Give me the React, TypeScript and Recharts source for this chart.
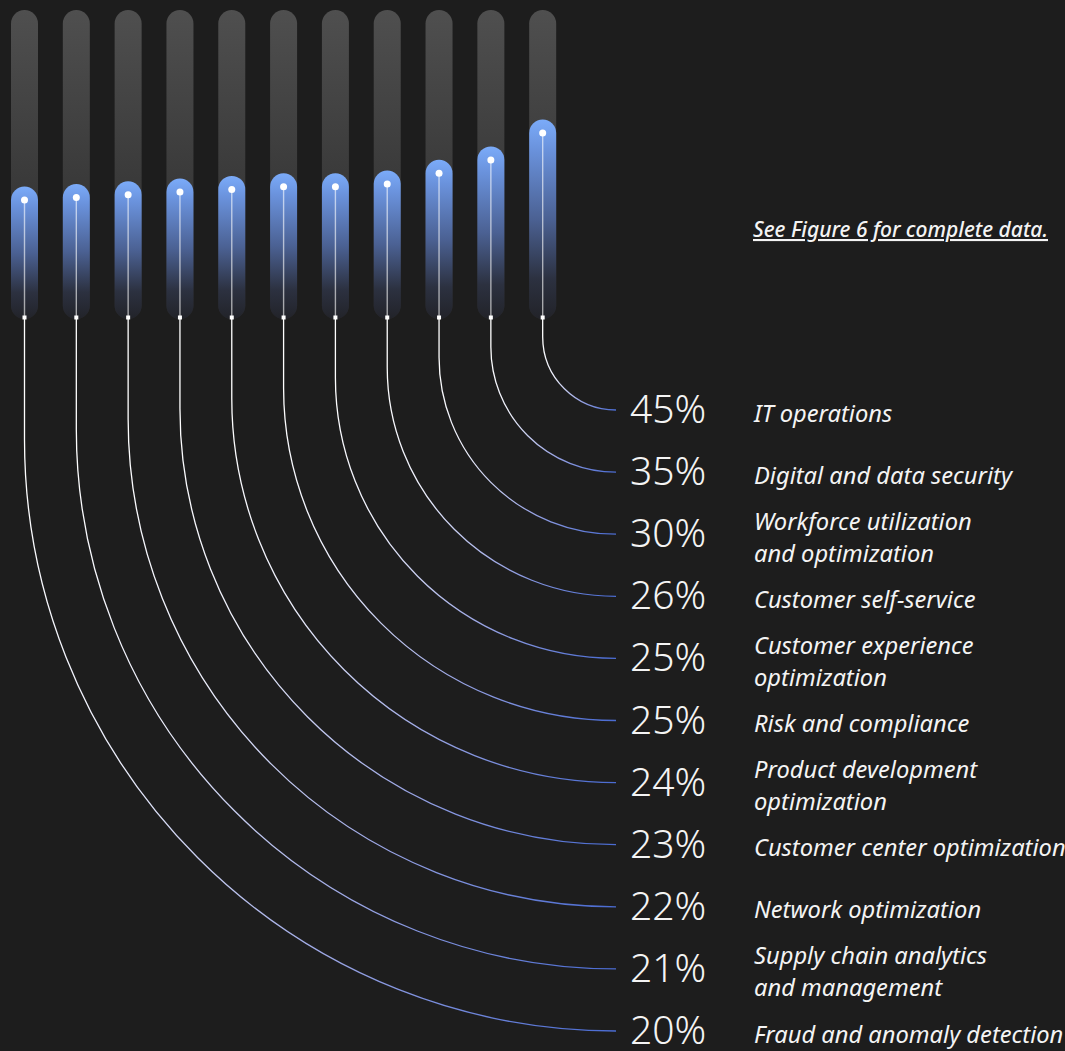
import React from 'react';
import { BarChart, Bar, XAxis, YAxis } from 'recharts';

// left to right; the connectors fan out so the last bar lands on the top row
const categories = [
  'Fraud and anomaly detection',
  'Supply chain analytics\nand management',
  'Network optimization',
  'Customer center optimization',
  'Product development\noptimization',
  'Risk and compliance',
  'Customer experience\noptimization',
  'Customer self-service',
  'Workforce utilization\nand optimization',
  'Digital and data security',
  'IT operations',
];
const values = [20, 21, 22, 23, 24, 25, 25, 26, 30, 35, 45];
const valueLabels = ['20%', '21%', '22%', '23%', '24%', '25%', '25%', '26%', '30%', '35%', '45%'];
const note = 'See Figure 6 for complete data.';

const data = categories.map((name, i) => ({ name, value: values[i], label: valueLabels[i] }));

const W = 1065;
const H = 1051;
const ROW_TOP = 410;
const ROW_GAP = 62.1;
const LINE_END_X = 616;
const PCT_X = 630;
const LABEL_X = 754;

if (typeof document !== 'undefined') {
  document.body.style.margin = '0';
  document.body.style.background = '#1d1d1d';
  document.body.style.overflow = 'hidden';
}

function Track(props: any) {
  const { x, y, width, height } = props;
  return <rect x={x} y={y} width={width} height={height} rx={width / 2} fill="url(#trackFill)" />;
}

function BarWithConnector(props: any) {
  const { x, y, width, height, index, payload, background } = props;
  const cx = x + width / 2;
  const r = width / 2;
  const bottom = background ? background.y + background.height : y + height;
  const row = categories.length - 1 - index;
  const rowY = ROW_TOP + row * ROW_GAP;
  const arcR = LINE_END_X - cx;
  const bendY = rowY - arcR;
  const markY = bottom - 1.5;
  const gid = `conn-${index}`;
  const lines: string[] = payload.name.split('\n');
  const firstBase = rowY + 11.5 - (lines.length - 1) * 16;

  return (
    <g>
      <defs>
        <linearGradient id={gid} gradientUnits="userSpaceOnUse" x1={cx} y1={bendY} x2={LINE_END_X} y2={rowY}>
          <stop offset="0" stopColor="#ffffff" />
          <stop offset="0.35" stopColor="#eceefb" />
          <stop offset="0.7" stopColor="#9aa5e4" />
          <stop offset="1" stopColor="#4a6bd2" />
        </linearGradient>
      </defs>
      <rect x={x} y={y} width={width} height={bottom - y} rx={r} fill="url(#barFill)" />
      <line x1={cx} y1={y + r} x2={cx} y2={markY} stroke="#ffffff" strokeOpacity={0.6} strokeWidth={1.4} />
      <circle cx={cx} cy={y + r} r={3.5} fill="#ffffff" />
      <path
        d={`M${cx},${markY} L${cx},${bendY} A${arcR},${arcR} 0 0 0 ${LINE_END_X},${rowY}`}
        fill="none"
        stroke={`url(#${gid})`}
        strokeWidth={1.3}
      />
      <rect x={cx - 2} y={markY - 2} width={4} height={4} fill="#ffffff" />
      <text
        x={PCT_X}
        y={rowY + 13}
        fill="#f4f4f4"
        fontSize={39}
        fontWeight={300}
        fontFamily="'Noto Sans', sans-serif"
      >
        {payload.label}
      </text>
      <text x={LABEL_X} fill="#f4f4f4" fontSize={23.7} fontStyle="italic" fontFamily="'Noto Sans', sans-serif">
        {lines.map((l, k) => (
          <tspan key={k} x={LABEL_X} y={firstBase + k * 32}>
            {l}
          </tspan>
        ))}
      </text>
    </g>
  );
}

export default function App() {
  return (
    <div style={{ width: W, height: H, background: '#1d1d1d' }}>
      <BarChart
        width={W}
        height={H}
        data={data}
        margin={{ top: 10, right: 496, bottom: 732, left: -1 }}
        barCategoryGap={0}
      >
        <defs>
          <linearGradient id="trackFill" x1="0" y1="0" x2="0" y2="1">
            <stop offset="0" stopColor="#4f4f4f" />
            <stop offset="0.6" stopColor="#383838" />
            <stop offset="1" stopColor="#262629" />
          </linearGradient>
          <linearGradient id="barFill" x1="0" y1="0" x2="0" y2="1">
            <stop offset="0" stopColor="#7babf9" />
            <stop offset="0.15" stopColor="#6a92dc" />
            <stop offset="0.5" stopColor="#4b6193" />
            <stop offset="0.8" stopColor="#2c3140" />
            <stop offset="1" stopColor="#222329" />
          </linearGradient>
        </defs>
        <XAxis dataKey="name" hide />
        <YAxis hide domain={[-29.4, 85.9]} />
        <Bar
          dataKey="value"
          barSize={27}
          background={(p: any) => <Track key={`track-${p.index}`} {...p} />}
          shape={(p: any) => <BarWithConnector {...p} />}
          isAnimationActive={false}
        />
        <text
          x={753}
          y={237}
          fill="#f4f4f4"
          fontSize={21}
          fontWeight={500}
          fontStyle="italic"
          textDecoration="underline"
          fontFamily="'Noto Sans', sans-serif"
        >
          {note}
        </text>
      </BarChart>
    </div>
  );
}
